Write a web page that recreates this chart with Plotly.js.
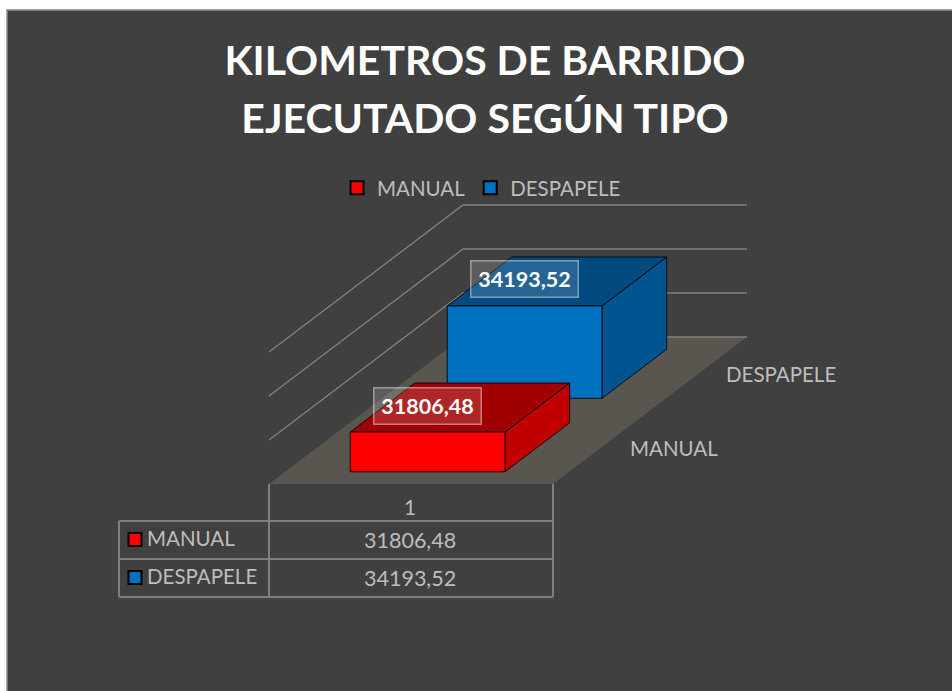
<!DOCTYPE html>
<html><head><meta charset="utf-8">
<script src="https://cdn.plot.ly/plotly-3.0.1.min.js"></script>
<style>html,body{margin:0;padding:0;background:#fff;overflow:hidden}#c{width:952px;height:691px}</style>
</head><body><div id="c"></div>
<script>
// ---- data ----
const categories = ['MANUAL', 'DESPAPELE'];
const values = [31806.48, 34193.52];
const gridValues = [32000, 34000, 36000];
const baseValue = 30000;
const tableHeader = ['1'];
const frontColors = ['#FF0000', '#0070C0'];
const topColors = ['#A00000', '#004A80'];
const sideColors = ['#C00000', '#005591'];
const titleText = 'KILOMETROS DE BARRIDO<br>EJECUTADO SEGÚN TIPO';

// ---- layout constants ----
const W = 952, H = 691;
const floorLeft = 269, floorWidth = 284, floorFront = 484;
const depthDx = 194, depthDy = 147, pxPerUnit = 0.022;
const barU = [0.229, 0.774], barDepth = 0.3333;
const grey = '#7F7F7F', txt = '#BDBDBD';
const font = 'Lato, "Open Sans", sans-serif';

const px = x => x / W, py = y => 1 - y / H;
const fmt = v => v.toFixed(2).replace('.', ',');
// oblique projection of (across, depth, value) into axis units
const P = (u, d, val) => [u + d * depthDx / floorWidth, val + d * depthDy / pxPerUnit];
function poly(pts, fill, line, width) {
  const q = pts.map(p => P(p[0], p[1], p[2]));
  return { type: 'scatter', mode: line ? 'lines' : 'none', x: q.map(a => a[0]).concat(q[0][0]), y: q.map(a => a[1]).concat(q[0][1]),
    fill: 'toself', fillcolor: fill, line: { color: line || 'rgba(0,0,0,0)', width: width || 1 }, hoverinfo: 'skip', showlegend: false };
}
function seg(pts) {
  const q = pts.map(p => P(p[0], p[1], p[2]));
  return { type: 'scatter', mode: 'lines', x: q.map(a => a[0]), y: q.map(a => a[1]), line: { color: grey, width: 1.4 }, hoverinfo: 'skip', showlegend: false };
}

const traces = [];
// walls' gridlines
gridValues.forEach(g => traces.push(seg([[0, 0, g], [0, 1, g], [1, 1, g]])));
// floor
traces.push(poly([[0, 0, baseValue], [1, 0, baseValue], [1, 1, baseValue], [0, 1, baseValue]], '#595650'));
traces.push(seg([[0, 1, baseValue], [1, 1, baseValue]]));
// bars, back first
[1, 0].forEach(i => {
  const d0 = (i + 0.5) / categories.length - barDepth / 2, d1 = d0 + barDepth;
  const u0 = barU[0], u1 = barU[1], v = values[i], b = baseValue, k = 'rgba(0,0,0,0.85)';
  traces.push(poly([[u1, d0, b], [u1, d1, b], [u1, d1, v], [u1, d0, v]], sideColors[i], k));
  traces.push(poly([[u0, d0, v], [u1, d0, v], [u1, d1, v], [u0, d1, v]], topColors[i], k));
  traces.push(poly([[u0, d0, b], [u1, d0, b], [u1, d0, v], [u0, d0, v]], frontColors[i], k));
});
// legend entries
categories.forEach((c, i) => traces.push({ type: 'scatter', mode: 'markers', name: c, x: [null], y: [null],
  marker: { symbol: 'square', size: 13, color: frontColors[i], line: { color: '#000', width: 2 } }, hoverinfo: 'skip' }));

// shapes: chart frame and data table
const line = (x0, y0, x1, y1) => ({ type: 'line', xref: 'paper', yref: 'paper', x0: px(x0), y0: py(y0), x1: px(x1), y1: py(y1), line: { color: grey, width: 2 } });
const shapes = [
  { type: 'rect', layer: 'below', xref: 'paper', yref: 'paper', x0: px(7), y0: py(10), x1: px(W + 10), y1: py(H + 10), fillcolor: '#404040', line: { color: '#8A8A8A', width: 1.5 } },
  line(269, 484, 269, 597), line(553, 484, 553, 597),
  line(119, 521, 553, 521), line(119, 559, 553, 559), line(119, 597, 553, 597), line(119, 521, 119, 597)
];
categories.forEach((c, i) => {
  const cy = 539.5 + i * 38;
  shapes.push({ type: 'rect', xref: 'paper', yref: 'paper', x0: px(128.5), x1: px(141.5), y0: py(cy - 6.5), y1: py(cy + 6.5), fillcolor: frontColors[i], line: { color: '#000', width: 2 } });
});

const note = (text, x, y, xanchor, size) => ({ text, xref: 'paper', yref: 'paper', x: px(x), y: py(y), xanchor: xanchor || 'center', yanchor: 'middle', showarrow: false,
  font: { family: font, size: size || 20.5, color: txt } });
const annotations = [
  note(tableHeader[0], 410, 507),
  note(categories[1], 781, 374), note(categories[0], 674, 448)
];
categories.forEach((c, i) => {
  annotations.push(note(c, 145, 538 + i * 38, 'left'));
  annotations.push(note(fmt(values[i]), 410, 540 + i * 38, 'center', 21.5));
  const d = (i + 0.5) / categories.length;
  const q = P(0.5, d, values[i]);
  annotations.push({ text: '<b>' + fmt(values[i]) + '</b>', x: q[0], y: q[1], xref: 'x', yref: 'y', xshift: -32, yshift: 2, showarrow: false,
    width: 106, height: 35, bgcolor: 'rgba(255,255,255,0.15)', bordercolor: 'rgba(255,255,255,0.45)', borderwidth: 1.5, borderpad: 0,
    font: { family: font, size: 21.5, color: '#FFFFFF' } });
});

const layout = {
  width: W, height: H, margin: { l: 0, r: 0, t: 0, b: 0, pad: 0 }, paper_bgcolor: '#FFFFFF', plot_bgcolor: 'rgba(0,0,0,0)',
  xaxis: { visible: false, range: [-floorLeft / floorWidth, (W - floorLeft) / floorWidth], fixedrange: true },
  yaxis: { visible: false, range: [baseValue - (H - floorFront) / pxPerUnit, baseValue + floorFront / pxPerUnit], fixedrange: true },
  title: { text: '<span style="font-size:41px"><b>' + titleText.replace('<br>', '</b></span><br><span style="font-size:41px"><b>') + '</b></span>', x: 485 / W, xanchor: 'center', xref: 'paper', y: 1 - 75 / H, yanchor: 'top', font: { family: font, size: 44.6, color: '#FFFFFF' } },
  legend: { orientation: 'h', x: 337 / W, y: 1 - 168 / H, xanchor: 'left', yanchor: 'top', font: { family: font, size: 20.5, color: txt }, bgcolor: 'rgba(0,0,0,0)', itemclick: false, itemdoubleclick: false },
  shapes, annotations
};
Plotly.newPlot('c', traces, layout, { displayModeBar: false, staticPlot: true });
</script></body></html>
